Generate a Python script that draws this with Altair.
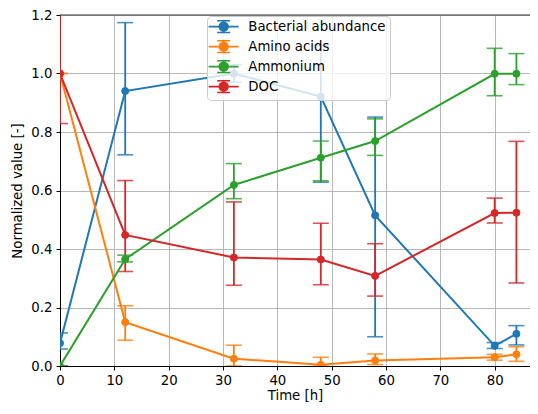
import math
import altair as alt
import pandas as pd

times = [0, 12, 32, 48, 58, 80, 84]
series_names = ["Bacterial abundance", "Amino acids", "Ammonium", "DOC"]
colors = ["#1f77b4", "#ff7f0e", "#2ca02c", "#d62728"]

bacteria = [0.078, 0.94, 1.0, 0.921, 0.515, 0.069, 0.11]
bacteria_lo = [0.058, 0.722, 0.97, 0.628, 0.10, 0.06, 0.072]
bacteria_hi = [0.113, 1.174, 1.03, 1.096, 0.851, 0.08, 0.138]

amino = [1.0, 0.15, 0.025, 0.004, 0.019, 0.030, 0.040]
amino_lo = [1.0, 0.088, 0.0, 0.0, 0.005, 0.02, 0.016]
amino_hi = [1.0, 0.206, 0.071, 0.03, 0.041, 0.04, 0.066]

ammonium = [0.0, 0.365, 0.619, 0.712, 0.769, 0.999, 0.999]
ammonium_lo = [0.0, 0.356, 0.572, 0.633, 0.72, 0.924, 0.962]
ammonium_hi = [0.0, 0.379, 0.692, 0.769, 0.845, 1.086, 1.068]

doc = [1.0, 0.448, 0.371, 0.364, 0.308, 0.523, 0.524]
doc_lo = [0.829, 0.323, 0.276, 0.278, 0.239, 0.489, 0.284]
doc_hi = [1.3, 0.634, 0.561, 0.488, 0.418, 0.574, 0.768]

x_ticks = [0, 10, 20, 30, 40, 50, 60, 70, 80]
y_ticks = [0.0, 0.2, 0.4, 0.6, 0.8, 1.0, 1.2]

rows = []
for k, (name, v, lo, hi) in enumerate(zip(
    series_names,
    [bacteria, amino, ammonium, doc],
    [bacteria_lo, amino_lo, ammonium_lo, doc_lo],
    [bacteria_hi, amino_hi, ammonium_hi, doc_hi],
)):
    for i, t in enumerate(times):
        rows.append({"series": name, "hex": colors[k], "order": k, "t": t,
                     "v": v[i], "lo": lo[i], "hi": hi[i]})
df = pd.DataFrame(rows)

FONT = "DejaVu Sans"
FS = 13.3
W, H = 470, 351

xs = alt.Scale(domain=[0, 86.5], nice=False, zero=False)
ys = alt.Scale(domain=[0, 1.2], nice=False)
cscale = alt.Scale(domain=series_names, range=colors)

X = alt.X("t:Q", scale=xs, axis=alt.Axis(values=x_ticks, title="Time [h]", format="d"))
Y = alt.Y("v:Q", scale=ys, axis=alt.Axis(values=y_ticks, title="Normalized value [-]", format=".1f"))
C = alt.Color("hex:N", scale=None)

base = alt.Chart(df)

rules = base.mark_rule(strokeWidth=1.8, clip=True).encode(
    x=alt.X("t:Q", scale=xs),
    y=alt.Y("lo:Q", scale=ys),
    y2="hi:Q",
    color=C,
)
caps_lo = base.mark_tick(orient="horizontal", size=16, thickness=1.6, clip=True, opacity=0.8).encode(
    x=alt.X("t:Q", scale=xs),
    y=alt.Y("lo:Q", scale=ys),
    color=C,
)
caps_hi = base.mark_tick(orient="horizontal", size=16, thickness=1.6, clip=True, opacity=0.8).encode(
    x=alt.X("t:Q", scale=xs),
    y=alt.Y("hi:Q", scale=ys),
    color=C,
)
lines = base.mark_line(strokeWidth=2, clip=True).encode(
    x=X,
    y=Y,
    color=C,
    detail="series:N",
    order="t:Q",
)

# legend symbol (unit = 5 px): horizontal line, error bar with caps, round marker
r = 0.88
circle = "M" + "L".join(
    f"{r*math.cos(2*math.pi*k/20):.3f},{r*math.sin(2*math.pi*k/20):.3f}" for k in range(20)
) + "Z"
sym = "M-3,0H3M0,-1.18V1.18M-1.3,-1.18H1.3M-1.3,1.18H1.3" + circle

leg = alt.Legend(title=None, orient="none", legendX=147, legendY=1)
points = base.mark_point(filled=True, size=50, opacity=1, clip=True, strokeWidth=1).encode(
    x=X,
    y=Y,
    fill=alt.Fill("series:N", scale=cscale, legend=leg),
    stroke=alt.Stroke("series:N", scale=cscale, legend=leg),
)

top = base.mark_rule(color="#333333", strokeWidth=1).encode(
    y=alt.datum(1.2, scale=ys), x=alt.value(0), x2=alt.value(W)
).transform_filter("datum.t == 0 && datum.order == 0")

chart = alt.layer(rules, caps_lo, caps_hi, lines, points, top).properties(
    width=W,
    height=H,
    autosize=alt.AutoSizeParams(type="none"),
    padding={"left": 52, "top": 7, "right": 0, "bottom": 38},
).configure_view(stroke=None).configure_axis(
    labelFont=FONT, labelFontSize=FS, labelColor="black",
    titleFont=FONT, titleFontSize=FS, titleFontWeight="normal", titleColor="black",
    tickColor="black", tickSize=4, tickWidth=1, labelPadding=3,
    domainColor="black", domainWidth=1,
    gridColor="#b0b0b0", gridWidth=0.9, labelFlush=False, labelOverlap=False,
).configure_axisY(titlePadding=6, labelPadding=4).configure_axisX(titlePadding=2).configure_legend(
    symbolType=sym, symbolSize=100, symbolStrokeWidth=1.6, symbolOpacity=1,
    symbolOffset=6, labelOffset=18,
    fillColor="rgba(255,255,255,0.8)", strokeColor="#cccccc",
    cornerRadius=4, padding=4, labelFont=FONT, labelFontSize=FS,
    labelColor="black", rowPadding=1,
)

chart.save("out.html", embed_options={"renderer": "svg", "actions": False})
